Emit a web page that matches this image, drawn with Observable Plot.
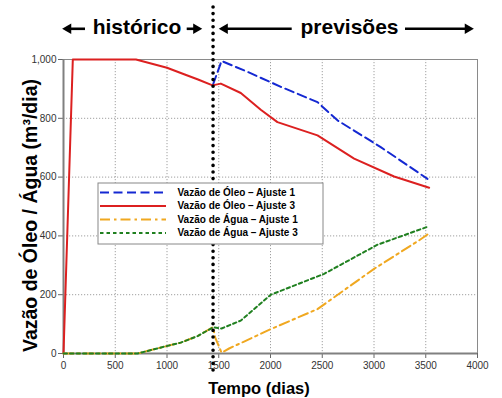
<!DOCTYPE html>
<html>
<head>
<meta charset="utf-8">
<script src="https://cdn.jsdelivr.net/npm/d3@7"></script>
<script src="https://cdn.jsdelivr.net/npm/@observablehq/plot@0.6"></script>
<style>
  html, body { margin: 0; padding: 0; background: #fff; }
  #chart { width: 502px; height: 398px; }
</style>
</head>
<body>
<div id="chart"></div>
<script>
// ---- Data ----
const xTicks = [0, 500, 1000, 1500, 2000, 2500, 3000, 3500, 4000];
const yTicks = [0, 200, 400, 600, 800, 1000];

const oleo1T = [1445, 1527, 1778, 2100, 2454, 2647, 3065, 3517];
const oleo1V = [915, 995, 958, 907, 855, 793, 702, 594];

const oleo3T = [0, 90, 700, 1000, 1165, 1300, 1440, 1520, 1713, 1906, 2067, 2454, 2808, 3194, 3533];
const oleo3V = [0, 1000, 1000, 972, 950, 932, 912, 918, 886, 829, 787, 742, 663, 602, 564];

const agua1T = [0, 715, 1005, 1133, 1300, 1445, 1465, 1527, 1600, 2003, 2454, 3001, 3436, 3533];
const agua1V = [0, 0, 26, 37, 60, 90, 55, 3, 17, 83, 151, 288, 385, 409];

const agua3T = [0, 715, 1005, 1133, 1300, 1445, 1527, 1713, 2003, 2518, 3034, 3533];
const agua3V = [0, 0, 26, 37, 60, 89, 85, 112, 200, 271, 370, 433];

const seriesNames = [
  "Vazão de Óleo – Ajuste 1",
  "Vazão de Óleo – Ajuste 3",
  "Vazão de Água – Ajuste 1",
  "Vazão de Água – Ajuste 3"
];

const histEnd = 1445;            // fim do histórico (dias)
const periodLabels = ["histórico", "previsões"];
const yLabel = "Vazão de Óleo / Água (m³/dia)";
const xLabel = "Tempo (dias)";

// ---- Build tables ----
const toRows = (T, V) => T.map((t, i) => ({t, v: V[i]}));
const series = [
  {rows: toRows(oleo1T, oleo1V), stroke: "#1428d2", dash: "9,4.5"},
  {rows: toRows(oleo3T, oleo3V), stroke: "#dc2020", dash: null},
  {rows: toRows(agua1T, agua1V), stroke: "#f0a820", dash: "10,4,2.5,4"},
  {rows: toRows(agua3T, agua3V), stroke: "#208020", dash: "3.5,3"}
];

// layout helpers (annotation positions in data units)
const W = 502, H = 398, mL = 63, mR = 25, mT = 59, mB = 45;
const xs = d3.scaleLinear([0, 4000], [mL, W - mR]);
const ys = d3.scaleLinear([0, 1000], [H - mB, mT]);
const px2x = p => xs.invert(p);
const px2y = p => ys.invert(p);

// header arrows [tailPx, tipPx]
const arrowsPx = [[85, 61.7], [186.7, 201.7], [291.7, 218.3], [405, 473.3]];
const arrowY = px2y(28.3);
const headH = 9; // px length of head
const arrowShafts = arrowsPx.map(([a, b]) => {
  const dir = Math.sign(b - a);
  return {x1: px2x(a), x2: px2x(b - dir * headH * 0.8), y: arrowY};
});
const arrowHeads = arrowsPx.map(([a, b]) => {
  const dir = Math.sign(b - a);
  return {x: px2x(b - dir * headH * 2 / 3), y: arrowY, rot: dir > 0 ? 90 : -90};
});
const titleRows = [
  {x: px2x(136.5), y: px2y(26.3), text: periodLabels[0]},
  {x: px2x(349), y: px2y(26.3), text: periodLabels[1]}
];

// legend
const lgBox = {x1: px2x(98), x2: px2x(323), y1: px2y(244), y2: px2y(183)};
const lgRowsPx = [192, 205.5, 219, 232.5];
const lgRows = seriesNames.map((name, i) => ({
  name, y: px2y(lgRowsPx[i]), x1: px2x(100), x2: px2x(166), tx: px2x(177), s: series[i]
}));

const marks = [
  Plot.gridX(xTicks, {stroke: "#a0a0a0", strokeOpacity: 1, strokeDasharray: "1.2,1.8", strokeWidth: 1}),
  Plot.gridY(yTicks, {stroke: "#a0a0a0", strokeOpacity: 1, strokeDasharray: "1.2,1.8", strokeWidth: 1}),
  Plot.frame({stroke: "#8a8a8a", strokeWidth: 1}),
  Plot.axisX({ticks: xTicks, tickFormat: d => String(d), tickSize: 5, tickPadding: 3, label: null, stroke: "#666", fontSize: 10}),
  Plot.axisY({ticks: yTicks, tickFormat: d3.format(","), tickSize: 5, tickPadding: 2, label: null, stroke: "#666", fontSize: 10}),
  Plot.ruleX([0], {stroke: "#808080", strokeWidth: 2}),
  Plot.ruleY([0], {stroke: "#808080", strokeWidth: 2}),
  ...series.map(s => Plot.line(s.rows, {
    x: "t", y: "v", stroke: s.stroke, strokeWidth: 2,
    strokeDasharray: s.dash || undefined, strokeLinejoin: "round"
  })),
  // vertical dotted separator
  Plot.ruleX([histEnd], {y1: px2y(370), y2: px2y(6), stroke: "#000", strokeWidth: 3.6, strokeDasharray: "0,6.6", strokeLinecap: "round", clip: false}),
  // legend
  Plot.rect([lgBox], {x1: "x1", x2: "x2", y1: "y1", y2: "y2", fill: "white", stroke: "#888", strokeWidth: 1}),
  ...lgRows.map(r => Plot.ruleY([r], {
    y: "y", x1: "x1", x2: "x2", stroke: r.s.stroke, strokeWidth: 2,
    strokeDasharray: r.s.dash || undefined
  })),
  Plot.text(lgRows, {x: "tx", y: "y", text: "name", textAnchor: "start", fontSize: 10, fontWeight: "bold", fill: "#000"}),
  // header
  Plot.ruleY(arrowShafts, {x1: "x1", x2: "x2", y: "y", stroke: "#000", strokeWidth: 2.6, clip: false}),
  Plot.dot(arrowHeads, {x: "x", y: "y", symbol: "triangle", r: 3.9, rotate: "rot", fill: "#000", stroke: "none"}),
  Plot.text(titleRows, {x: "x", y: "y", text: "text", fontSize: 21, fontWeight: "bold", fill: "#000"}),
  // axis labels
  Plot.text([xLabel], {frameAnchor: "bottom", dx: -11.5, dy: 40, fontSize: 16.5, fontWeight: "bold", fill: "#000", lineAnchor: "bottom", textAnchor: "middle"}),
  Plot.text([yLabel], {frameAnchor: "left", dx: -27, dy: 9, rotate: -90, fontSize: 19.5, fontWeight: "bold", fill: "#000", textAnchor: "middle", lineAnchor: "bottom"})
];

const chart = Plot.plot({
  width: W, height: H,
  marginLeft: mL, marginRight: mR, marginTop: mT, marginBottom: mB,
  style: {fontFamily: "'Liberation Sans', Arial, sans-serif", fontSize: "10px", color: "#333", background: "white", overflow: "visible"},
  x: {domain: [0, 4000]},
  y: {domain: [0, 1000]},
  marks
});
document.getElementById("chart").appendChild(chart);
</script>
</body>
</html>
